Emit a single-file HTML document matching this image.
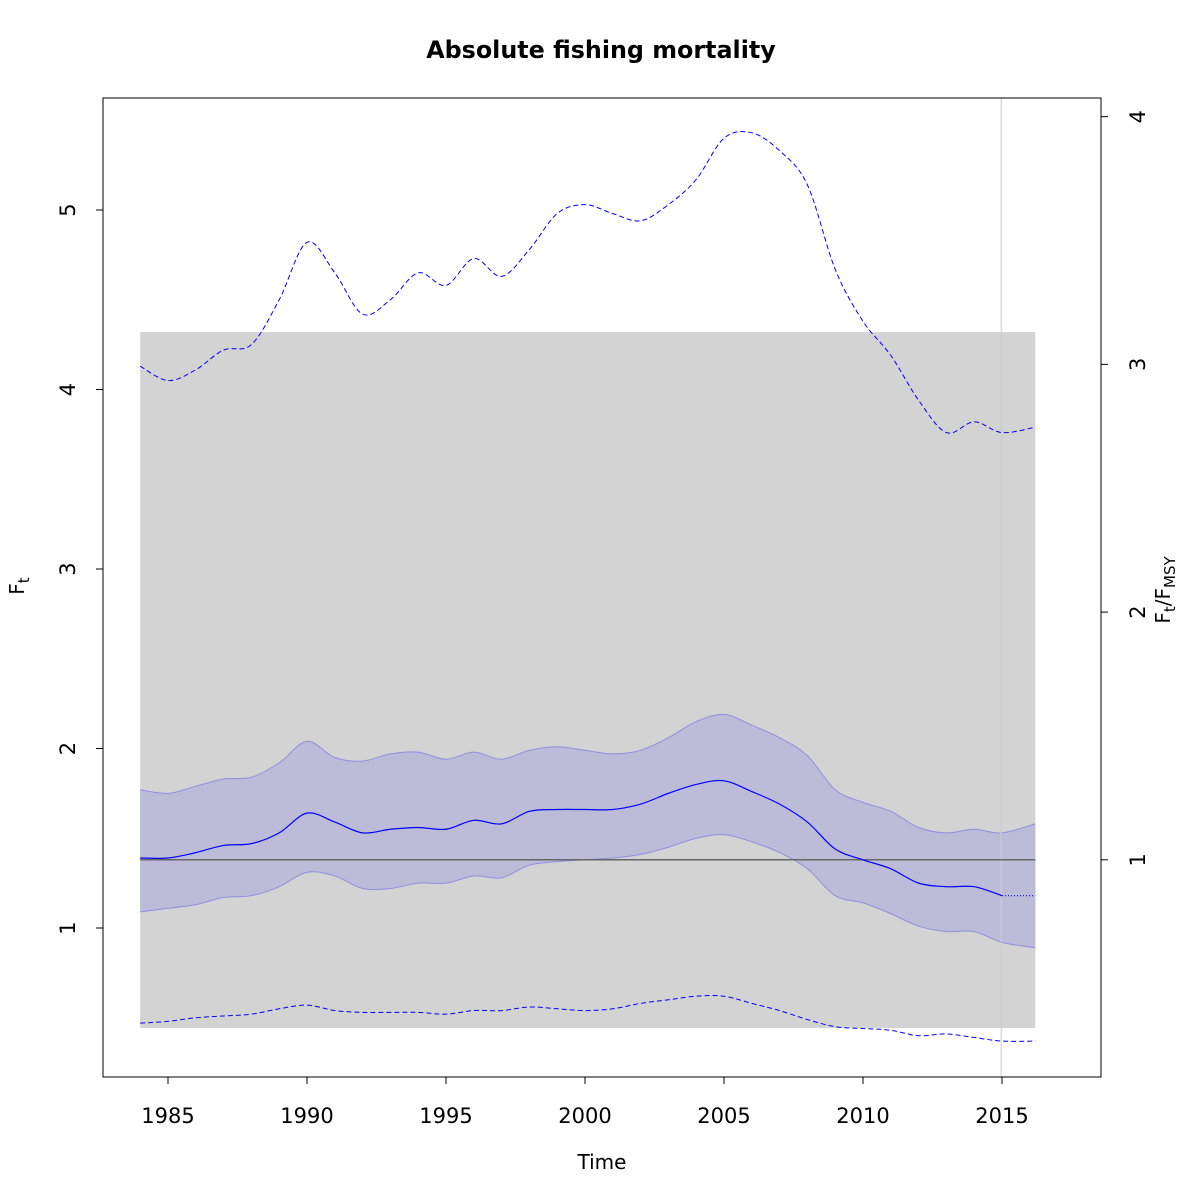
<!DOCTYPE html>
<html><head><meta charset="utf-8"><style>
body{margin:0;background:#fff}
svg{display:block;font-family:"DejaVu Sans","Liberation Sans",sans-serif}
</style></head><body>
<svg id="chart" width="1200" height="1200">
<text x="601" y="58" text-anchor="middle" font-size="23.8" font-weight="bold">Absolute fishing mortality</text>
<g id="plot"></g>
<text x="602" y="1169" text-anchor="middle" font-size="20">Time</text>
<text transform="translate(24,586) rotate(-90)" text-anchor="middle" font-size="20">F<tspan font-size="15" dy="5">t</tspan></text>
<text transform="translate(1170,590) rotate(-90)" text-anchor="middle" font-size="20">F<tspan font-size="15" dy="5">t</tspan><tspan dy="-5">/F</tspan><tspan font-size="15" dy="5">MSY</tspan></text>
</svg>
<script>
const years=[1984,1985,1986,1987,1988,1989,1990,1991,1992,1993,1994,1995,1996,1997,1998,1999,2000,2001,2002,2003,2004,2005,2006,2007,2008,2009,2010,2011,2012,2013,2014,2015];
const fEst=[1.39,1.39,1.42,1.46,1.47,1.53,1.64,1.59,1.53,1.55,1.56,1.55,1.60,1.58,1.65,1.66,1.66,1.66,1.69,1.75,1.80,1.82,1.76,1.69,1.59,1.44,1.38,1.33,1.25,1.23,1.23,1.18];
const fPred=[1.18,1.18];
const predYears=[2015,2016.2];
const ciYears=[1984,1985,1986,1987,1988,1989,1990,1991,1992,1993,1994,1995,1996,1997,1998,1999,2000,2001,2002,2003,2004,2005,2006,2007,2008,2009,2010,2011,2012,2013,2014,2015,2016.2];
const ciUpper=[1.77,1.75,1.79,1.83,1.84,1.92,2.04,1.95,1.93,1.97,1.98,1.94,1.98,1.94,1.99,2.01,1.99,1.97,1.99,2.06,2.15,2.19,2.13,2.06,1.96,1.77,1.70,1.65,1.56,1.53,1.55,1.53,1.58];
const ciLower=[1.09,1.11,1.13,1.17,1.18,1.23,1.31,1.29,1.22,1.22,1.25,1.25,1.29,1.28,1.35,1.37,1.38,1.39,1.41,1.45,1.50,1.52,1.48,1.42,1.33,1.18,1.14,1.08,1.01,0.98,0.98,0.92,0.89];
const outerUpper=[4.13,4.05,4.11,4.22,4.25,4.50,4.82,4.65,4.42,4.50,4.65,4.58,4.73,4.63,4.78,4.98,5.03,4.98,4.94,5.03,5.17,5.40,5.43,5.33,5.14,4.67,4.38,4.19,3.94,3.76,3.82,3.76,3.79];
const outerLower=[0.47,0.48,0.50,0.51,0.52,0.55,0.57,0.54,0.53,0.53,0.53,0.52,0.54,0.54,0.56,0.55,0.54,0.55,0.58,0.60,0.62,0.62,0.58,0.54,0.49,0.45,0.44,0.43,0.40,0.41,0.39,0.37,0.37];
const fmsy=1.38;
const regionX=[1984,2016.2];
const regionY=[0.443,4.32];
const lastObs=2014.97;
const xTicks=[1985,1990,1995,2000,2005,2010,2015];
const yTicks=[1,2,3,4,5];
const rTicks=[1,2,3,4];

const NS="http://www.w3.org/2000/svg";
const X=v=>168+(v-1985)*27.8;
const Y=v=>928-(v-1)*179.5;
const R=v=>Y(v*fmsy);
const plot=document.getElementById('plot');
function mk(tag,at,name){const e=document.createElementNS(NS,tag);for(const k in at)e.setAttribute(k,at[k]);


plot.appendChild(e);return e;}
function smooth(pts,move=true){let d=move?`M${pts[0][0]},${pts[0][1]}`:`L${pts[0][0]},${pts[0][1]}`;
for(let i=0;i<pts.length-1;i++){const p0=pts[Math.max(i-1,0)],p1=pts[i],p2=pts[i+1],p3=pts[Math.min(i+2,pts.length-1)];
const c1=[p1[0]+(p2[0]-p0[0])/6,p1[1]+(p2[1]-p0[1])/6],c2=[p2[0]-(p3[0]-p1[0])/6,p2[1]-(p3[1]-p1[1])/6];
d+=`C${c1[0]},${c1[1]} ${c2[0]},${c2[1]} ${p2[0]},${p2[1]}`;}return d;}
const pts=(xs,ys)=>xs.map((x,i)=>[X(x),Y(ys[i])]);

mk('rect',{x:X(regionX[0]),y:Y(regionY[1]),width:X(regionX[1])-X(regionX[0]),height:Y(regionY[0])-Y(regionY[1]),fill:'#d3d3d3'},'reference-region');
const up=pts(ciYears,ciUpper),lo=pts(ciYears,ciLower).reverse();
mk('path',{d:smooth(up)+smooth(lo,false)+'Z',fill:'#bcbcd9',stroke:'none'},'confidence-band');
mk('path',{d:smooth(up),fill:'none',stroke:'#8f8fe0',"stroke-width":1},'ci-upper-edge');
mk('path',{d:smooth(pts(ciYears,ciLower)),fill:'none',stroke:'#8f8fe0',"stroke-width":1},'ci-lower-edge');
mk('line',{x1:X(lastObs),x2:X(lastObs),y1:98,y2:1077,stroke:'#cccccc',"stroke-width":1},'last-observation-line');
mk('line',{x1:X(regionX[0]),x2:X(regionX[1]),y1:Y(fmsy),y2:Y(fmsy),stroke:'#666',"stroke-width":1.5},'fmsy-line');
mk('path',{d:smooth(pts(ciYears,outerUpper)),fill:'none',stroke:'#0000ff',"stroke-width":1,"stroke-dasharray":"5,3"},'outer-upper-dashed');
mk('path',{d:smooth(pts(ciYears,outerLower)),fill:'none',stroke:'#0000ff',"stroke-width":1,"stroke-dasharray":"5,3"},'outer-lower-dashed');
mk('path',{d:smooth(pts(years,fEst)),fill:'none',stroke:'#0000ff',"stroke-width":1.2},'f-estimate-line');
mk('path',{d:smooth(pts(predYears,fPred)),fill:'none',stroke:'#0000ff',"stroke-width":1.2,"stroke-dasharray":"1,2"},'f-prediction-line');
mk('rect',{x:103,y:98,width:998,height:979,fill:'none',stroke:'#000',"stroke-width":1},'plot-frame');
xTicks.forEach(t=>{mk('line',{x1:X(t),x2:X(t),y1:1077,y2:1084,stroke:'#000'},'x-tick');
const e=mk('text',{x:X(t),y:1123,"text-anchor":"middle","font-size":21},'x-tick-label');e.textContent=t;});
yTicks.forEach(t=>{mk('line',{x1:96,x2:103,y1:Y(t),y2:Y(t),stroke:'#000'},'y-tick');
const e=mk('text',{transform:`translate(75,${Y(t)}) rotate(-90)`,"text-anchor":"middle","font-size":21},'y-tick-label');e.textContent=t;});
rTicks.forEach(t=>{mk('line',{x1:1101,x2:1108,y1:R(t),y2:R(t),stroke:'#000'},'right-tick');
const e=mk('text',{transform:`translate(1145,${R(t)}) rotate(-90)`,"text-anchor":"middle","font-size":21},'right-tick-label');e.textContent=t;});
</script>
</body></html>
